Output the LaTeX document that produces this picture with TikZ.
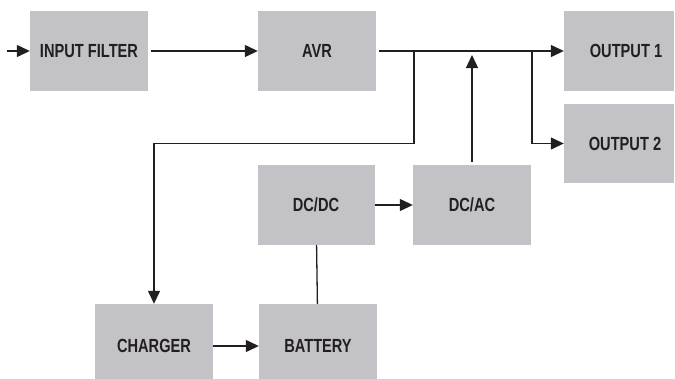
\documentclass[tikz,border=0pt]{standalone}
\usepackage{fontspec}
\setmainfont[FakeStretch=0.77]{Liberation Sans}
\usepackage{xcolor}
\usepackage{tikz}
\usetikzlibrary{arrows.meta,positioning}

\definecolor{boxgray}{RGB}{195,194,199}
\definecolor{inkdark}{RGB}{35,31,32}

\begin{document}
\begin{tikzpicture}[x=1bp, y=-1bp, node distance=156bp]
    % Define styles
    \tikzstyle{block} = [rectangle, fill=boxgray, text=inkdark, minimum width=118bp, minimum height=80bp, inner sep=0pt, font=\fontsize{19bp}{21bp}\selectfont\bfseries]
    \tikzstyle{line} = [draw=inkdark, line width=1.3bp, -{Triangle[length=13bp, width=12bp]}]
    \tikzstyle{wire} = [draw=inkdark, line width=1.3bp]

    \useasboundingbox (0,0) rectangle (675,378);

    % Place nodes
    \node [block] (filter) at (89,51) {INPUT FILTER};
    \node [block] (avr) at (317,51) {AVR};
    \node [block, minimum width=110bp] (out1) at (619,51) {\hspace*{14bp}OUTPUT 1};
    \node [block, minimum width=110bp, minimum height=79bp] (out2) at (619,143.5) {\hspace*{12bp}OUTPUT 2};
    \node [block, minimum width=117bp] (dcdc) at (316,205) {DC/DC};
    \node [block, right of=dcdc] (dcac) {DC/AC};
    \node [block, minimum height=84bp] (charger) at (154,346) {CHARGER};
    \node [block, minimum height=84bp, right of=charger, node distance=164bp] (battery) {BATTERY};

    \coordinate (in) at (7,51);
    \coordinate (split) at (414,51);
    \coordinate (fork) at (532,51);

    % Draw edges
    \path [line] (in) -- (filter);
    \path [line, shorten <=3bp] (filter) -- (avr);
    \path [line, shorten <=3bp] (avr) -- (out1);
    \path [line] (split) -- (split |- out2) -| (charger);
    \path [line] (fork) |- (out2);
    \path [line, shorten <=3bp, shorten >=4bp] (dcac) -- (dcac |- avr);
    \path [line] (dcdc) -- (dcac);
    \path [wire] (dcdc) -- (battery);
    \path [line] (charger) -- (battery);
\end{tikzpicture}
\end{document}
